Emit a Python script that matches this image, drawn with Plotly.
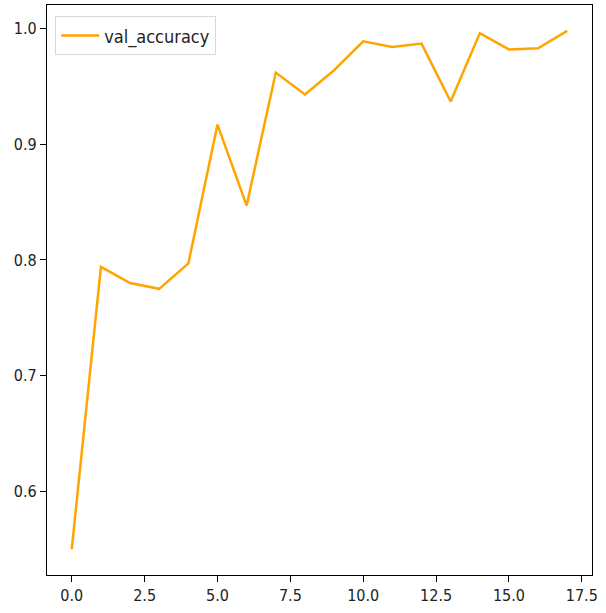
import plotly.graph_objects as go

# Validation accuracy per training epoch
epochs = list(range(18))
val_accuracy = [0.550, 0.794, 0.780, 0.775, 0.797, 0.917, 0.847, 0.962, 0.943,
                0.964, 0.989, 0.984, 0.987, 0.937, 0.996, 0.982, 0.983, 0.998]

x_ticks = [0.0, 2.5, 5.0, 7.5, 10.0, 12.5, 15.0, 17.5]
y_ticks = [0.6, 0.7, 0.8, 0.9, 1.0]

font_family = "DejaVu Sans Condensed, DejaVu Sans, sans-serif"

fig = go.Figure()
fig.add_trace(go.Scatter(
    x=epochs, y=val_accuracy, mode="lines", name="val_accuracy",
    line=dict(color="#FFA500", width=2.5),
))

axis_common = dict(
    showgrid=False, zeroline=False, showline=True, linecolor="black",
    linewidth=1.2, mirror=True, ticks="outside", ticklen=6, tickwidth=1,
    tickcolor="black", tickfont=dict(family=font_family, size=16, color="#222"),
)

fig.update_layout(
    width=606, height=613,
    margin=dict(l=47, r=14, t=5, b=38),
    paper_bgcolor="white", plot_bgcolor="white",
    showlegend=True,
    legend=dict(x=0.015, y=0.98, xanchor="left", yanchor="top",
                itemwidth=38,
                bgcolor="rgba(255,255,255,0.8)", bordercolor="#d8d8d8",
                borderwidth=1, font=dict(family=font_family, size=18, color="#222")),
    xaxis=dict(range=[-0.85, 17.85], tickvals=x_ticks,
               ticktext=[f"{v:.1f}" for v in x_ticks], **axis_common),
    yaxis=dict(range=[0.5276, 1.0204], tickvals=y_ticks,
               ticktext=[f"{v:.1f}" for v in y_ticks], **axis_common),
)

fig.write_html("out.html")
